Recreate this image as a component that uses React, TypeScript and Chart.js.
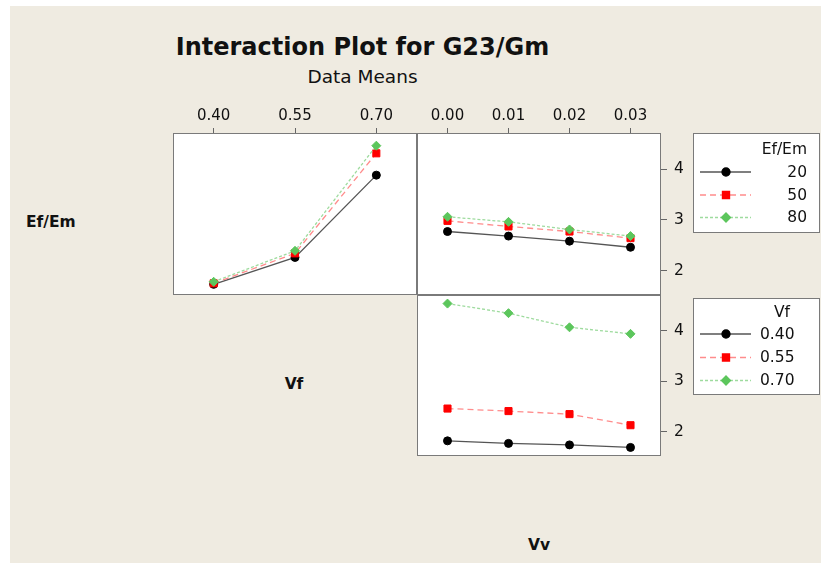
import React, { useEffect, useRef } from 'react';
import { Chart, registerables } from 'chart.js';
import { drawPoint } from 'chart.js/helpers';

Chart.register(...registerables);

const W = 821;
const H = 563;
const FONT = "'DejaVu Sans', Verdana, sans-serif";
const TEXT = '#111111';
const FRAME = '#7a7a7a';

// factor levels
const vfLevels = ['0.40', '0.55', '0.70'];
const vvLevels = ['0.00', '0.01', '0.02', '0.03'];
const efEmLevels = ['20', '50', '80'];

// mean G23/Gm, one line per Ef/Em level across Vf
const efEm20ByVf = [1.73, 2.26, 3.88];
const efEm50ByVf = [1.75, 2.34, 4.31];
const efEm80ByVf = [1.78, 2.39, 4.46];

// mean G23/Gm, one line per Ef/Em level across Vv
const efEm20ByVv = [2.77, 2.68, 2.58, 2.46];
const efEm50ByVv = [2.98, 2.87, 2.77, 2.64];
const efEm80ByVv = [3.06, 2.96, 2.81, 2.68];

// mean G23/Gm, one line per Vf level across Vv
const vf040ByVv = [1.82, 1.77, 1.74, 1.69];
const vf055ByVv = [2.46, 2.41, 2.35, 2.13];
const vf070ByVv = [4.54, 4.35, 4.07, 3.94];

// shared response axis
const yTicks = [2, 3, 4];
const yMin = 1.52;
const yMax = 4.71;

type SeriesStyle = {
  line: string;
  marker: string;
  dash: number[];
  pointStyle: 'circle' | 'rect' | 'rectRot';
  radius: number;
  width: number;
};

const seriesStyles: SeriesStyle[] = [
  { line: '#555555', marker: '#000000', dash: [], pointStyle: 'circle', radius: 4, width: 1.3 },
  { line: '#ff8c8c', marker: '#ff0000', dash: [6, 4], pointStyle: 'rect', radius: 5, width: 1.3 },
  { line: '#9edb9e', marker: '#5cc65c', dash: [3, 2], pointStyle: 'rectRot', radius: 4.5, width: 1.3 },
];

function lineSet(label: string, data: number[], s: SeriesStyle, order: number) {
  return {
    label,
    data,
    order,
    borderColor: s.line,
    borderWidth: s.width,
    borderDash: s.dash,
    pointStyle: s.pointStyle,
    pointRadius: s.radius,
    pointBackgroundColor: s.marker,
    pointBorderColor: s.marker,
    pointBorderWidth: 1,
    tension: 0,
    fill: false,
  };
}

// white plotting area with a thin grey frame
const panelFrame = {
  id: 'panelFrame',
  beforeDraw(chart: any) {
    const { ctx, chartArea: a } = chart;
    ctx.save();
    ctx.fillStyle = '#ffffff';
    ctx.fillRect(a.left, a.top, a.right - a.left, a.bottom - a.top);
    ctx.restore();
  },
  afterDraw(chart: any) {
    const { ctx, chartArea: a } = chart;
    ctx.save();
    ctx.strokeStyle = FRAME;
    ctx.lineWidth = 1;
    ctx.strokeRect(a.left + 0.5, a.top + 0.5, a.right - a.left - 1, a.bottom - a.top - 1);
    ctx.restore();
  },
};

type LegendSpec = {
  box: { x: number; y: number; w: number; h: number };
  title: string;
  titleRight: number;
  titleY: number;
  labels: string[];
  labelX: number;
  labelAlign: CanvasTextAlign;
  rowsY: number[];
};

function makeLegend(id: string, spec: LegendSpec) {
  return {
    id,
    afterDraw(chart: any) {
      const ctx: CanvasRenderingContext2D = chart.ctx;
      const { box } = spec;
      ctx.save();
      ctx.fillStyle = '#ffffff';
      ctx.fillRect(box.x, box.y, box.w, box.h);
      ctx.strokeStyle = FRAME;
      ctx.lineWidth = 1;
      ctx.strokeRect(box.x + 0.5, box.y + 0.5, box.w - 1, box.h - 1);

      ctx.font = `15.5px ${FONT}`;
      ctx.fillStyle = TEXT;
      ctx.textBaseline = 'middle';
      ctx.textAlign = 'right';
      ctx.fillText(spec.title, spec.titleRight, spec.titleY + 1);

      spec.labels.forEach((lab, i) => {
        const s = seriesStyles[i];
        const y = spec.rowsY[i];
        ctx.save();
        ctx.strokeStyle = s.line;
        ctx.lineWidth = s.width;
        ctx.setLineDash(s.dash);
        ctx.beginPath();
        ctx.moveTo(700, y + 0.5);
        ctx.lineTo(751, y + 0.5);
        ctx.stroke();
        ctx.setLineDash([]);
        ctx.fillStyle = s.marker;
        ctx.strokeStyle = s.marker;
        drawPoint(ctx, { pointStyle: s.pointStyle, radius: s.radius, rotation: 0, borderWidth: 1 }, 726, y + 0.5);
        ctx.restore();
        ctx.fillStyle = TEXT;
        ctx.textAlign = spec.labelAlign;
        ctx.fillText(lab, spec.labelX, y + 1);
      });
      ctx.restore();
    },
  };
}

const topAxis = (labels: string[]) => ({
  type: 'category',
  labels,
  position: 'top',
  offset: true,
  grid: { drawOnChartArea: false, drawTicks: true, tickLength: 5, color: '#666666', offset: false },
  border: { display: false },
  ticks: { padding: 3, font: { family: FONT, size: 15 }, color: TEXT, maxRotation: 0, autoSkip: false },
  afterFit: (s: any) => {
    s.height = 38;
  },
});

const rightAxis = () => ({
  type: 'linear',
  position: 'right',
  min: yMin,
  max: yMax,
  afterBuildTicks: (s: any) => {
    s.ticks = yTicks.map((v) => ({ value: v }));
  },
  grid: { drawOnChartArea: false, drawTicks: true, tickLength: 6, color: '#666666' },
  border: { display: false },
  ticks: { padding: 7, font: { family: FONT, size: 15.5 }, color: TEXT, callback: (v: any) => String(v) },
  afterFit: (s: any) => {
    s.width = 30;
  },
});

const baseOptions = (padding: any, scales: any) => ({
  responsive: false,
  animation: false,
  devicePixelRatio: 1,
  layout: { padding },
  events: [],
  plugins: { legend: { display: false }, tooltip: { enabled: false }, title: { display: false } },
  scales,
});

function buildConfigs() {
  // Ef/Em lines across Vf (top-left cell)
  const cfgVf: any = {
    type: 'line',
    data: {
      labels: vfLevels,
      datasets: [
        lineSet(efEmLevels[0], efEm20ByVf, seriesStyles[0], 2),
        lineSet(efEmLevels[1], efEm50ByVf, seriesStyles[1], 1),
        lineSet(efEmLevels[2], efEm80ByVf, seriesStyles[2], 0),
      ],
    },
    options: baseOptions(
      { left: 173, right: W - 417, top: 95, bottom: H - 295 },
      { x: topAxis(vfLevels), y: { type: 'linear', display: false, min: yMin, max: yMax } }
    ),
    plugins: [panelFrame],
  };

  // Ef/Em lines across Vv (top-right cell)
  const cfgVvEf: any = {
    type: 'line',
    data: {
      labels: vvLevels,
      datasets: [
        lineSet(efEmLevels[0], efEm20ByVv, seriesStyles[0], 2),
        lineSet(efEmLevels[1], efEm50ByVv, seriesStyles[1], 1),
        lineSet(efEmLevels[2], efEm80ByVv, seriesStyles[2], 0),
      ],
    },
    options: baseOptions(
      { left: 417, right: 130, top: 95, bottom: H - 295 },
      { x: topAxis(vvLevels), y: rightAxis() }
    ),
    plugins: [
      panelFrame,
      makeLegend('legendEfEm', {
        box: { x: 693, y: 133, w: 127, h: 100 },
        title: 'Ef/Em',
        titleRight: 807,
        titleY: 149,
        labels: efEmLevels,
        labelX: 807,
        labelAlign: 'right',
        rowsY: [171.5, 194.5, 217],
      }),
    ],
  };

  // Vf lines across Vv (bottom-right cell)
  const cfgVvVf: any = {
    type: 'line',
    data: {
      labels: vvLevels,
      datasets: [
        lineSet(vfLevels[0], vf040ByVv, seriesStyles[0], 2),
        lineSet(vfLevels[1], vf055ByVv, seriesStyles[1], 1),
        lineSet(vfLevels[2], vf070ByVv, seriesStyles[2], 0),
      ],
    },
    options: baseOptions(
      { left: 417, right: 130, top: 295, bottom: H - 456 },
      {
        x: { type: 'category', labels: vvLevels, offset: true, display: false },
        y: rightAxis(),
      }
    ),
    plugins: [
      panelFrame,
      makeLegend('legendVf', {
        box: { x: 693, y: 298, w: 127, h: 97 },
        title: 'Vf',
        titleRight: 790,
        titleY: 311.5,
        labels: vfLevels,
        labelX: 760,
        labelAlign: 'left',
        rowsY: [333.5, 357, 380],
      }),
    ],
  };

  return [cfgVf, cfgVvEf, cfgVvVf];
}

const canvasStyle: React.CSSProperties = { position: 'absolute', left: 0, top: 0 };

const textStyle = (
  left: number,
  top: number,
  size: number,
  bold: boolean,
  center: boolean
): React.CSSProperties => ({
  position: 'absolute',
  left,
  top,
  fontFamily: FONT,
  fontSize: size,
  fontWeight: bold ? 'bold' : 'normal',
  lineHeight: 1,
  color: TEXT,
  whiteSpace: 'nowrap',
  transform: center ? 'translateX(-50%)' : undefined,
});

export default function App() {
  const ref1 = useRef<HTMLCanvasElement>(null);
  const ref2 = useRef<HTMLCanvasElement>(null);
  const ref3 = useRef<HTMLCanvasElement>(null);

  useEffect(() => {
    const cfgs = buildConfigs();
    const refs = [ref1, ref2, ref3];
    const charts = refs.map((r, i) => new Chart(r.current as HTMLCanvasElement, cfgs[i]));
    return () => charts.forEach((c) => c.destroy());
  }, []);

  return (
    <div style={{ position: 'fixed', left: 0, top: 0, right: 0, bottom: 0, background: '#ffffff', overflow: 'hidden' }}>
      <div style={{ position: 'absolute', left: 10, top: 6, right: 0, bottom: 0, background: '#efebe1' }} />
      <div style={textStyle(362.5, 34.7, 24, true, true)}>Interaction Plot for G23/Gm</div>
      <div style={textStyle(362.5, 67.7, 18.5, false, true)}>Data Means</div>
      <div style={textStyle(26, 215.2, 15.5, true, false)}>Ef/Em</div>
      <div style={textStyle(294, 377, 15.5, true, true)}>Vf</div>
      <div style={textStyle(539, 538, 15.5, true, true)}>Vv</div>
      <canvas ref={ref1} width={W} height={H} style={canvasStyle} />
      <canvas ref={ref2} width={W} height={H} style={canvasStyle} />
      <canvas ref={ref3} width={W} height={H} style={canvasStyle} />
    </div>
  );
}
